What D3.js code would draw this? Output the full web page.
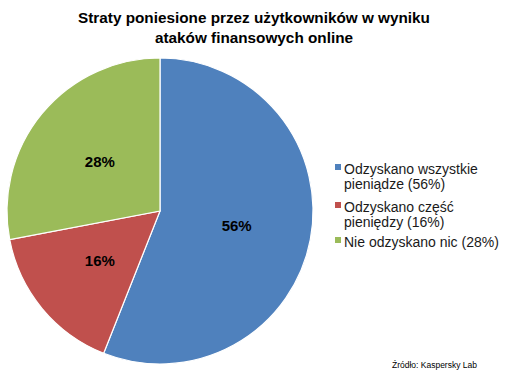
<!DOCTYPE html>
<html>
<head>
<meta charset="utf-8">
<script src="https://cdn.jsdelivr.net/npm/d3@7"></script>
<style>
  body { margin: 0; background: #fff; }
  text { font-family: "Liberation Sans", Arial, sans-serif; }
</style>
</head>
<body>
<div id="chart"></div>
<script>
// Chart data
const titleLines = ['Straty poniesione przez użytkowników w wyniku', 'ataków finansowych online']
const categories = ['Odzyskano wszystkie pieniądze', 'Odzyskano część pieniędzy', 'Nie odzyskano nic']
const values = [56, 16, 28]
const legendLines = [
  ['Odzyskano wszystkie', 'pieniądze (56%)'],
  ['Odzyskano część', 'pieniędzy (16%)'],
  ['Nie odzyskano nic (28%)']
]
const colors = ['#4F81BD', '#C0504D', '#9BBB59']
const sourceText = 'Źródło: Kaspersky Lab'

let width = 505,
    height = 377

let svg = d3.select('#chart').append('svg')
    .attr('width', width)
    .attr('height', height)

// Title
let title = svg.append('text')
    .attr('text-anchor', 'middle')
    .attr('font-weight', 'bold')
    .attr('font-size', 15.3)
    .attr('fill', '#000')
titleLines.forEach((t, i) => {
  title.append('tspan')
    .attr('x', 254)
    .attr('y', 23 + i * 20)
    .text(t)
})

// Pie
let cx = 160, cy = 211, radius = 153

let pie = d3.pie()
    .sort(null)
    .value(d => d)

let arc = d3.arc()
    .innerRadius(0)
    .outerRadius(radius)

let labelArc = d3.arc()
    .innerRadius(radius * 0.51)
    .outerRadius(radius * 0.51)

let g = svg.append('g')
    .attr('transform', 'translate(' + cx + ',' + cy + ')')

let arcs = pie(values)

g.selectAll('path.slice')
  .data(arcs)
  .enter().append('path')
  .attr('class', 'slice')
  .attr('d', arc)
  .attr('fill', (d, i) => colors[i])
  .attr('stroke', '#fff')
  .attr('stroke-width', 1.2)

g.selectAll('text.pct')
  .data(arcs)
  .enter().append('text')
  .attr('class', 'pct')
  .attr('transform', d => 'translate(' + labelArc.centroid(d) + ')')
  .attr('text-anchor', 'middle')
  .attr('dy', '0.35em')
  .attr('font-weight', 'bold')
  .attr('font-size', 15)
  .attr('fill', '#000')
  .text(d => d.data + '%')

// Legend
let legendTops = [174, 212, 247]
let legend = svg.append('g')

legendLines.forEach((lines, i) => {
  let item = legend.append('g')
  item.append('rect')
    .attr('x', 335)
    .attr('y', legendTops[i] - 10)
    .attr('width', 6)
    .attr('height', 6)
    .attr('fill', colors[i])
  let t = item.append('text')
    .attr('font-size', 14)
    .attr('fill', '#1a1a1a')
  lines.forEach((line, j) => {
    t.append('tspan')
      .attr('x', 344)
      .attr('y', legendTops[i] + j * 15)
      .text(line)
  })
})

// Source
svg.append('text')
  .attr('x', 477)
  .attr('y', 368)
  .attr('text-anchor', 'end')
  .attr('font-size', 8.5)
  .attr('fill', '#000')
  .text(sourceText)
</script>
</body>
</html>
